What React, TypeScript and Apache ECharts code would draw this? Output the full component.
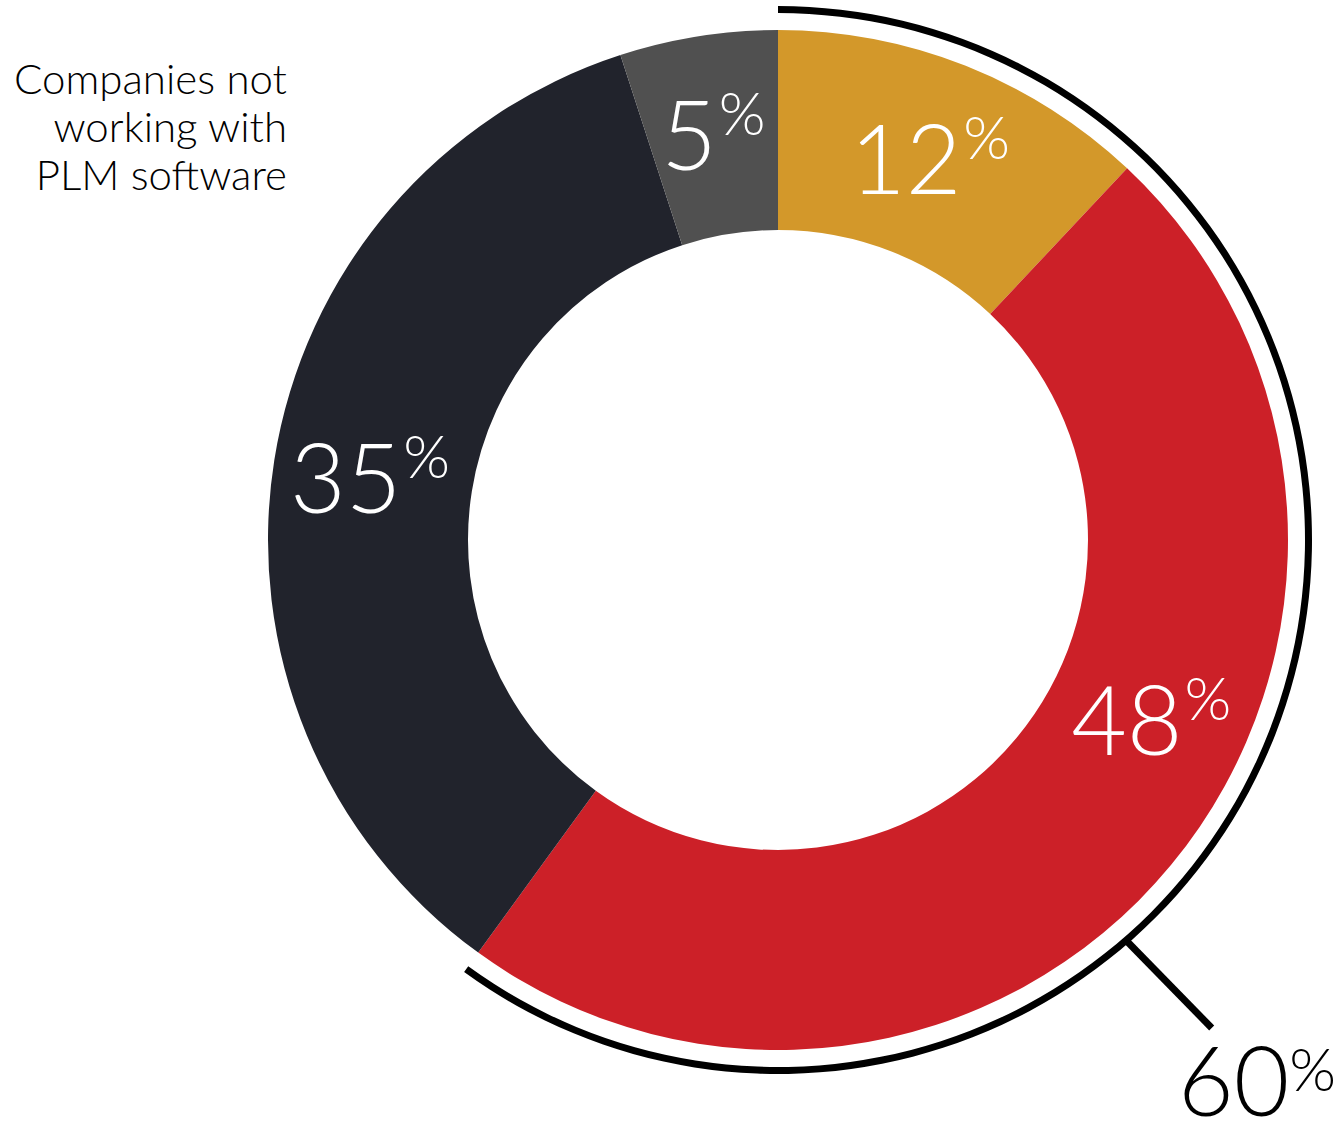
import React, { useEffect, useRef } from "react";
import * as echarts from "echarts";

const categories = ["Segment A", "Segment B", "Segment C", "Companies not working with PLM software"];
const values = [12, 48, 35, 5];
const colors = ["#D3982A", "#CC2028", "#21232C", "#505050"];
const bracketValues = [60, 40];
const bracketLabel = "60%";
const sideNote = ["Companies not", "working with", "PLM software"];

const FONT = "Lato";

export default function App() {
  const ref = useRef<HTMLDivElement>(null);
  useEffect(() => {
    if (!ref.current) return;
    const chart = echarts.init(ref.current, undefined, { renderer: "svg" });
    const cx = 778, cy = 540;
    const arcR = 530;
    const tickAngle = (139 * Math.PI) / 180;
    const sx = cx + arcR * Math.sin(tickAngle);
    const sy = cy - arcR * Math.cos(tickAngle);
    const ex = sx + 86, ey = sy + 88;
    const richWhite = {
      n: { fontSize: 96, color: "#fff", fontFamily: FONT, fontWeight: 300, lineHeight: 100 },
      p: { fontSize: 60, color: "#fff", fontFamily: FONT, fontWeight: 300, verticalAlign: "top", lineHeight: 64, padding: [0, 0, 0, 2] },
    };
    chart.setOption({
      animation: false,
      series: [
        {
          type: "pie",
          center: [cx, cy],
          radius: [310, 510],
          startAngle: 90,
          clockwise: true,
          silent: true,
          data: values.map((v, i) => ({ name: categories[i], value: v, itemStyle: { color: colors[i] } })),
          label: {
            show: true,
            position: "inside",
            formatter: (p: any) => `{n|${p.value}}{p|%}`,
            rich: richWhite,
          },
          labelLine: { show: false },
          labelLayout: (params: any) => (params.dataIndex === 1 ? { dx: 55, dy: -86 } : {}),
        },
        {
          type: "pie",
          center: [cx, cy],
          radius: [527, 534],
          startAngle: 90,
          clockwise: true,
          silent: true,
          label: { show: false },
          labelLine: { show: false },
          data: bracketValues.map((v, i) => ({
            value: v,
            itemStyle: { color: i === 0 ? "#000" : "rgba(0,0,0,0)" },
          })),
        },
      ],
      graphic: [
        {
          type: "line",
          shape: { x1: sx, y1: sy, x2: ex, y2: ey },
          style: { stroke: "#000", lineWidth: 7 },
        },
        {
          type: "text",
          x: 1178,
          y: 1038,
          style: {
            text: `{n|${bracketLabel.replace("%", "")}}{p|%}`,
            rich: {
              n: { fontSize: 96, fill: "#000", fontFamily: FONT, fontWeight: 300, lineHeight: 80 },
              p: { fontSize: 60, fill: "#000", fontFamily: FONT, fontWeight: 300, verticalAlign: "top", lineHeight: 44, padding: [0, 0, 0, 0] },
            },
          },
        },
        {
          type: "text",
          x: 287,
          y: 54,
          style: {
            text: sideNote.join("\n"),
            fill: "#000",
            fontFamily: FONT,
            fontSize: 42,
            fontWeight: 300,
            lineHeight: 48,
            align: "right",
          },
        },
      ],
    });
    return () => chart.dispose();
  }, []);
  return <div ref={ref} style={{ position: "absolute", left: 0, top: 0, width: 1339, height: 1122 }} />;
}
